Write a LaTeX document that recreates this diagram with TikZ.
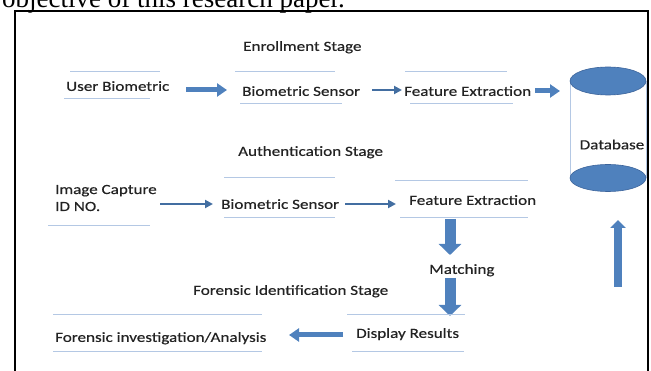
\documentclass[tikz,border=0pt]{standalone}
\usepackage{fontspec}
\setmainfont{Carlito}[FakeStretch=1.22,FakeBold=0.5]
\newfontfamily\paperfont{Liberation Serif}
\usetikzlibrary{arrows.meta}

\definecolor{fillblue}{RGB}{79,129,189}
\definecolor{edgeblue}{RGB}{60,100,155}
\definecolor{ruleblue}{RGB}{180,200,228}
\definecolor{inkgray}{RGB}{35,35,35}

\begin{document}
\begin{tikzpicture}[x=1pt,y=-1pt,
  lbl/.style={inner sep=0pt, anchor=mid west, yshift=-2.5pt, text=inkgray,
    font=\fontsize{14}{17}\selectfont},
  rule/.style={draw=ruleblue, line width=0.9pt},
  boldarrow/.style={draw=fillblue, line width=5pt,
    -{Triangle[length=10pt,width=13pt]}},
  thinarrow/.style={draw=fillblue!85!black, line width=2.6pt,
    -{Triangle[length=8pt,width=8pt]}},
  downarrow/.style={draw=fillblue, line width=11pt,
    -{Triangle[length=11pt,width=22pt]}},
  uparrow/.style={draw=fillblue, line width=8pt,
    -{Triangle[length=8pt,width=15pt]}},
  drum/.style={fill=fillblue, draw=edgeblue, line width=0.6pt}
]
\useasboundingbox (0,0) rectangle (651,371);
\clip (0,0) rectangle (651,371);

% running text of the page above the figure
\node[anchor=base west, inner sep=0pt, font=\paperfont\fontsize{27}{30}\selectfont]
  (caption) at (2,7.5) {objective of this research paper.};

% figure frame (open at the bottom)
\draw[line width=2pt] (15,390) -- (15,11) -- (648,11) -- (648,390);

% ---------- Enrollment stage ----------
\node[lbl] (enrol) at (243,46) {Enrollment Stage};
\node[lbl] (ub) at (66,86) {User Biometric};
\node[lbl] (bs1) at (242,91) {Biometric Sensor};
\node[lbl] (fe1) at (404,91) {Feature Extraction};

\draw[rule] (70,71) -- (160,71);
\draw[rule] (64,98) -- (150,98);
\draw[rule] (235,71) -- (335,71);
\draw[rule] (240,103) -- (342,103);
\draw[rule] (405,71) -- (507,71);
\draw[rule] (410,103) -- (513,103);

\coordinate (a1s) at (186,90);  \coordinate (a1e) at (227,90);
\coordinate (a2s) at (372,90);  \coordinate (a2e) at (402,90);
\coordinate (a3s) at (535,91);  \coordinate (a3e) at (560,91);
\draw[boldarrow] (a1s) -- (a1e);
\draw[thinarrow] (a2s) -- (a2e);
\draw[boldarrow] (a3s) -- (a3e);

% ---------- Database drum ----------
\draw[rule] (570,81) -- (570,178);
\draw[rule] (646,81) -- (646,178);
\draw[drum] (608,178) ellipse [x radius=38, y radius=13.5];
\draw[drum] (608,81) ellipse [x radius=38, y radius=14];
\node[lbl, anchor=center, yshift=0pt] (db) at (612,142) {Database};

% ---------- Authentication stage ----------
\node[lbl] (auth) at (238,151) {Authentication Stage};
\node[lbl, anchor=west, yshift=0pt, align=left] (ic) at (55,195.5) {Image Capture\\ID NO.};
\node[lbl] (bs2) at (221,204) {Biometric Sensor};
\node[lbl] (fe2) at (409,200) {Feature Extraction};
\node[lbl] (match) at (429,269) {Matching};

\draw[rule] (48,225) -- (150,225);
\draw[rule] (224,177) -- (335,177);
\draw[rule] (224,217) -- (335,217);
\draw[rule] (395,180) -- (528,180);
\draw[rule] (400,217) -- (528,217);

\coordinate (a4s) at (160,204); \coordinate (a4e) at (213,204);
\coordinate (a5s) at (345,204); \coordinate (a5e) at (396,204);
\coordinate (a6s) at (450,219); \coordinate (a6e) at (450,255);
\coordinate (a7s) at (450,278); \coordinate (a7e) at (450,316);
\coordinate (a9s) at (618,287); \coordinate (a9e) at (618,220);
\draw[thinarrow] (a4s) -- (a4e);
\draw[thinarrow] (a5s) -- (a5e);
\draw[downarrow] (a6s) -- (a6e);
\draw[downarrow] (a7s) -- (a7e);
\draw[uparrow] (a9s) -- (a9e);

% ---------- Forensic identification stage ----------
\node[lbl] (forensic) at (193,290) {Forensic Identification Stage};
\node[lbl] (disp) at (356,333) {Display Results};
\node[lbl] (inv) at (55,337) {Forensic investigation/Analysis};

\draw[rule] (347,314) -- (465,314);
\draw[rule] (352,351) -- (464,351);
\draw[rule] (53,314) -- (262,314);
\draw[rule] (53,351) -- (262,351);

\coordinate (a8s) at (343,335); \coordinate (a8e) at (289,335);
\draw[boldarrow] (a8s) -- (a8e);
\end{tikzpicture}
\end{document}
